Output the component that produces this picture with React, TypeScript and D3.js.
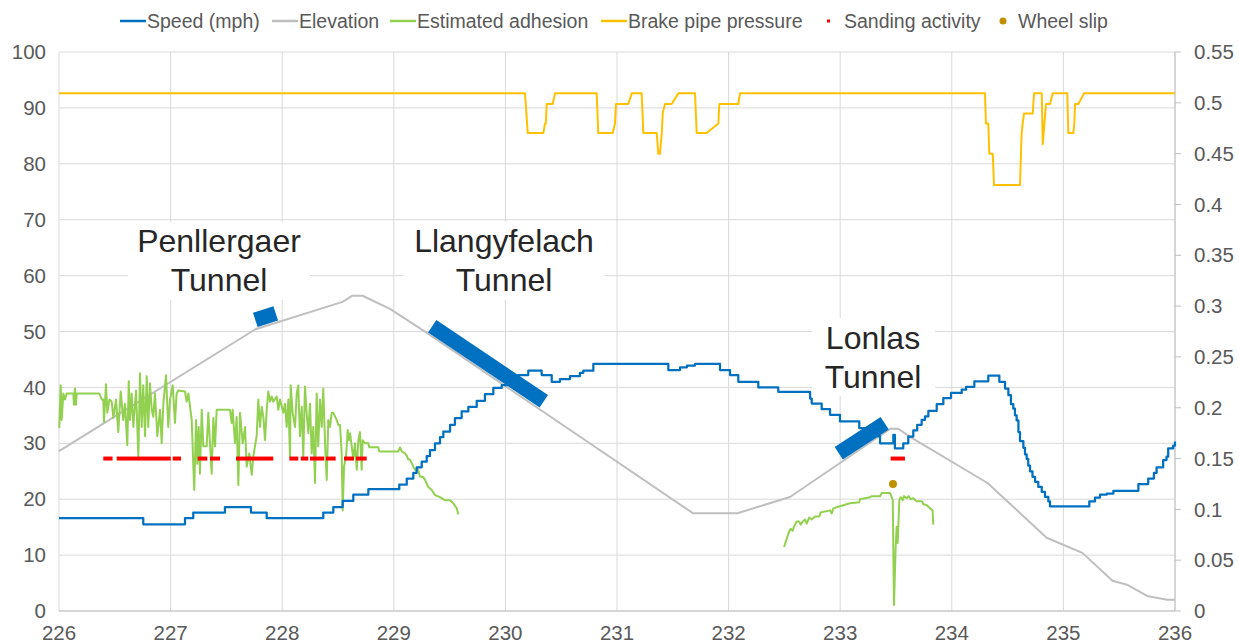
import React from "react";
import * as d3 from "d3";

// ---------- DATA ----------
const xTicks = [226, 227, 228, 229, 230, 231, 232, 233, 234, 235, 236];
const leftTicks = [0, 10, 20, 30, 40, 50, 60, 70, 80, 90, 100];
const rightTicks = [0, 0.05, 0.1, 0.15, 0.2, 0.25, 0.3, 0.35, 0.4, 0.45, 0.5, 0.55];

const seriesNames = ["Speed (mph)", "Elevation", "Estimated adhesion", "Brake pipe pressure", "Sanding activity", "Wheel slip"];

// speed (mph), step-after points [km, mph]
const speed: [number, number][] = [
  [226.0, 16.6], [226.755, 15.5], [227.129, 16.6], [227.203, 17.6], [227.487, 18.6], [227.72, 17.6], [227.861, 16.6],
  [228.368, 17.6], [228.458, 18.6], [228.542, 19.7], [228.637, 20.8], [228.772, 21.8], [229.049, 22.6], [229.116, 23.7],
  [229.175, 24.7], [229.205, 25.7], [229.25, 26.7], [229.295, 27.7], [229.324, 28.8], [229.369, 30.0], [229.414, 31.1],
  [229.444, 32.1], [229.504, 33.3], [229.548, 34.5], [229.608, 35.7], [229.668, 36.5], [229.743, 37.6], [229.817, 38.8],
  [229.892, 39.9], [229.967, 40.4], [230.04, 41.2], [230.113, 42.2], [230.205, 43.0], [230.325, 42.2], [230.415, 41.0],
  [230.489, 41.5], [230.579, 42.0], [230.668, 42.6], [230.698, 43.0], [230.788, 44.2], [231.46, 43.1], [231.565, 43.6],
  [231.627, 43.9], [231.699, 44.2], [231.923, 43.1], [232.013, 42.2], [232.087, 41.0], [232.266, 40.0], [232.445, 39.2],
  [232.73, 38.0], [232.745, 37.1], [232.834, 36.1], [232.909, 35.1], [232.998, 33.9], [233.171, 32.7], [233.267, 31.3],
  [233.357, 30.0], [233.476, 31.5], [233.49, 29.1], [233.565, 30.0], [233.61, 31.2], [233.655, 32.3], [233.69, 33.3],
  [233.73, 34.2], [233.76, 34.8], [233.79, 35.8], [233.865, 37.0], [233.924, 38.1], [233.993, 39.0], [234.089, 39.6],
  [234.128, 40.1], [234.202, 41.1], [234.327, 42.1], [234.426, 41.0], [234.477, 39.8], [234.507, 38.6], [234.53, 37.0],
  [234.551, 36.2], [234.566, 35.0], [234.581, 34.1], [234.597, 32.0], [234.611, 30.4], [234.641, 29.2], [234.656, 28.0],
  [234.671, 27.2], [234.685, 26.0], [234.701, 25.0], [234.723, 24.0], [234.746, 23.1], [234.775, 22.2], [234.806, 21.3],
  [234.835, 20.4], [234.865, 19.6], [234.88, 18.7], [235.232, 19.6], [235.283, 20.3], [235.328, 20.8], [235.388, 21.0],
  [235.448, 21.5], [235.672, 22.7], [235.76, 23.7], [235.811, 24.7], [235.835, 25.7], [235.894, 27.0], [235.924, 27.6],
  [235.939, 29.1], [235.984, 29.6], [236.0, 30.3],
];

// elevation (left-axis units) [km, value]
const elevation: [number, number][] = [
  [226.0, 28.6], [227.76, 50.4], [228.54, 55.3], [228.63, 56.4], [228.72, 56.4], [228.97, 54.0], [229.3, 49.7],
  [231.68, 17.5], [232.08, 17.5], [232.55, 20.4], [233.45, 32.6], [233.52, 32.6], [233.63, 31.1], [234.32, 22.9],
  [234.85, 13.1], [235.17, 10.4], [235.44, 5.4], [235.57, 4.7], [235.75, 2.7], [235.93, 2.0], [236.0, 2.0],
];

// brake pipe pressure (left-axis units) [km, value]
const brakePipe: [number, number][] = [
  [226.0, 92.6], [230.176, 92.6], [230.2, 85.5], [230.34, 85.5], [230.355, 87.2], [230.362, 87.2], [230.37, 90.7],
  [230.424, 90.7], [230.444, 92.6], [230.818, 92.6], [230.832, 85.5], [230.961, 85.5], [230.982, 87.2], [230.991, 90.7],
  [231.101, 90.7], [231.132, 92.6], [231.221, 92.6], [231.236, 85.5], [231.356, 85.5], [231.37, 81.8], [231.385, 81.8],
  [231.401, 85.5], [231.41, 89.1], [231.43, 90.7], [231.49, 90.7], [231.549, 92.6], [231.699, 92.6], [231.714, 85.5],
  [231.803, 85.5], [231.908, 87.2], [231.917, 90.7], [232.087, 90.7], [232.102, 92.6], [234.297, 92.6], [234.306, 87.2],
  [234.327, 87.2], [234.336, 81.8], [234.367, 81.8], [234.378, 76.2], [234.611, 76.2], [234.626, 85.5], [234.635, 87.2],
  [234.647, 89.0], [234.725, 89.0], [234.737, 92.6], [234.806, 92.6], [234.815, 83.5], [234.844, 90.7], [234.88, 90.7],
  [234.904, 92.6], [235.035, 92.6], [235.044, 85.5], [235.089, 85.5], [235.098, 87.2], [235.104, 90.7], [235.134, 90.7],
  [235.185, 92.6], [236.0, 92.6],
];

// estimated adhesion (right axis), first stretch
const adhesionA: [number, number][] = [
  [226.003, 0.18], [226.015, 0.222], [226.024, 0.188], [226.039, 0.214], [226.054, 0.208], [226.069, 0.214], [226.128, 0.214],
  [226.134, 0.203], [226.143, 0.219], [226.152, 0.203], [226.159, 0.214], [226.361, 0.214], [226.383, 0.208], [226.397, 0.208],
  [226.403, 0.186], [226.421, 0.223], [226.433, 0.195], [226.451, 0.208], [226.472, 0.206], [226.487, 0.19], [226.511, 0.208],
  [226.531, 0.176], [226.553, 0.216], [226.576, 0.188], [226.591, 0.204], [226.612, 0.163], [226.625, 0.226], [226.636, 0.188],
  [226.651, 0.214], [226.666, 0.181], [226.69, 0.217], [226.711, 0.152], [226.726, 0.234], [226.741, 0.181], [226.755, 0.222],
  [226.771, 0.172], [226.786, 0.231], [226.8, 0.181], [226.815, 0.224], [226.831, 0.198], [226.845, 0.191], [226.86, 0.214],
  [226.881, 0.172], [226.905, 0.198], [226.92, 0.165], [226.935, 0.204], [226.959, 0.232], [226.979, 0.181], [226.995, 0.208],
  [227.019, 0.222], [227.039, 0.185], [227.054, 0.214], [227.069, 0.217], [227.129, 0.216], [227.144, 0.206], [227.159, 0.214],
  [227.189, 0.188], [227.203, 0.145], [227.212, 0.119], [227.228, 0.188], [227.239, 0.145], [227.252, 0.181], [227.263, 0.135],
  [227.279, 0.198], [227.293, 0.162], [227.323, 0.162], [227.338, 0.195], [227.353, 0.165], [227.368, 0.135], [227.383, 0.19],
  [227.398, 0.162], [227.413, 0.198], [227.427, 0.198], [227.532, 0.198], [227.547, 0.185], [227.556, 0.198], [227.577, 0.165],
  [227.592, 0.191], [227.607, 0.124], [227.622, 0.195], [227.646, 0.165], [227.667, 0.181], [227.682, 0.142], [227.705, 0.155],
  [227.727, 0.134], [227.741, 0.152], [227.771, 0.172], [227.786, 0.208], [227.801, 0.181], [227.816, 0.201], [227.831, 0.191],
  [227.846, 0.168], [227.861, 0.198], [227.875, 0.216], [227.891, 0.206], [227.906, 0.211], [227.92, 0.206], [227.951, 0.211],
  [227.965, 0.198], [227.98, 0.208], [228.01, 0.195], [228.025, 0.204], [228.04, 0.181], [228.055, 0.208], [228.07, 0.152],
  [228.076, 0.222], [228.094, 0.195], [228.115, 0.181], [228.13, 0.214], [228.144, 0.222], [228.159, 0.172], [228.175, 0.201],
  [228.189, 0.152], [228.204, 0.221], [228.219, 0.195], [228.234, 0.175], [228.249, 0.204], [228.264, 0.155], [228.279, 0.181],
  [228.294, 0.126], [228.309, 0.214], [228.323, 0.162], [228.339, 0.208], [228.354, 0.181], [228.368, 0.219], [228.384, 0.165],
  [228.399, 0.129], [228.413, 0.188], [228.428, 0.181], [228.444, 0.195], [228.458, 0.195], [228.488, 0.188], [228.503, 0.183],
  [228.518, 0.183], [228.533, 0.155], [228.542, 0.099], [228.554, 0.142], [228.572, 0.152], [228.587, 0.178], [228.599, 0.168],
  [228.608, 0.175], [228.623, 0.162], [228.637, 0.149], [228.652, 0.165], [228.668, 0.139], [228.682, 0.168], [228.697, 0.176],
  [228.712, 0.139], [228.721, 0.168], [228.742, 0.165], [228.772, 0.165], [228.78, 0.161], [228.861, 0.161], [228.87, 0.157],
  [229.04, 0.157], [229.056, 0.161], [229.071, 0.157], [229.1, 0.155], [229.115, 0.153], [229.13, 0.149], [229.145, 0.149],
  [229.175, 0.142], [229.19, 0.139], [229.217, 0.139], [229.235, 0.132], [229.262, 0.132], [229.28, 0.129], [229.309, 0.122],
  [229.34, 0.119], [229.369, 0.114], [229.414, 0.112], [229.459, 0.109], [229.504, 0.109], [229.533, 0.106], [229.564, 0.101],
  [229.578, 0.095],
];

// estimated adhesion (right axis), second stretch
const adhesionB: [number, number][] = [
  [232.497, 0.063], [232.535, 0.076], [232.556, 0.081], [232.574, 0.079], [232.586, 0.083], [232.61, 0.088], [232.633, 0.088],
  [232.646, 0.085], [232.664, 0.088], [232.685, 0.09], [232.7, 0.086], [232.723, 0.092], [232.745, 0.09], [232.774, 0.093],
  [232.813, 0.093], [232.825, 0.097], [232.864, 0.098], [232.909, 0.099], [232.924, 0.096], [232.938, 0.101], [232.998, 0.103],
  [233.058, 0.105], [233.088, 0.106], [233.171, 0.107], [233.177, 0.11], [233.267, 0.112], [233.282, 0.113], [233.357, 0.113],
  [233.372, 0.116], [233.446, 0.116], [233.455, 0.114], [233.471, 0.109], [233.482, 0.006], [233.497, 0.063], [233.506, 0.083],
  [233.515, 0.067], [233.53, 0.109], [233.542, 0.112], [233.56, 0.109], [233.572, 0.113], [233.596, 0.111], [233.614, 0.113],
  [233.632, 0.11], [233.655, 0.111], [233.673, 0.109], [233.686, 0.108], [233.733, 0.108], [233.745, 0.105], [233.776, 0.104],
  [233.805, 0.101], [233.828, 0.099], [233.834, 0.085],
];

// sanding activity runs [kmStart, kmEnd] at level (right axis)
const sandingLevel = 0.15;
const sandingRuns: [number, number][] = [
  [226.397, 226.48], [226.517, 227.001], [227.019, 227.093], [227.243, 227.329], [227.353, 227.443], [227.586, 227.92],
  [228.064, 228.144], [228.166, 228.234], [228.249, 228.377], [228.392, 228.479], [228.554, 228.643], [228.661, 228.757],
  [233.452, 233.58],
];

// wheel slip events [km, value right axis]
const wheelSlip: [number, number][] = [[233.473, 0.125]];

// tunnels
const tunnelNames = ["Penllergaer", "Llangyfelach", "Lonlas"];
// marker centre line [kmStart, valStart, kmEnd, valEnd] (left-axis units)
const tunnelMarks: [number, number, number, number][] = [
  [227.759, 52.06, 227.942, 53.26],
  [229.344, 50.93, 230.344, 37.53],
  [232.987, 28.21, 233.399, 33.58],
];

// ---------- LAYOUT / STYLE ----------
const W = 1239, H = 643;
const FONT = "'Liberation Sans', Arial, Helvetica, sans-serif";
const C = { speed: "#0070C0", elev: "#BFBFBF", adh: "#92D050", brake: "#FFC000", sand: "#FF0000", slip: "#BF9000", grid: "#D9D9D9", text: "#595959" };
// label boxes: [x, y, w, h, centreX, baseline1, baseline2]
const labelBoxes = [
  [128, 222, 182, 78, 219, 252, 291],
  [403, 222, 202, 78, 504, 252, 291],
  [812, 318, 123, 78, 873, 349, 388],
];

export default function App() {
  const x = d3.scaleLinear().domain([226, 236]).range([59, 1175]);
  const yL = d3.scaleLinear().domain([0, 100]).range([611, 52]);
  const yR = d3.scaleLinear().domain([0, 0.55]).range([611, 52]);

  const lineL = d3.line<[number, number]>().x((d) => x(d[0])).y((d) => yL(d[1]));
  const lineR = d3.line<[number, number]>().x((d) => x(d[0])).y((d) => yR(d[1]));
  const stepL = d3.line<[number, number]>().x((d) => x(d[0])).y((d) => yL(d[1])).curve(d3.curveStepAfter);

  const fmtR = (v: number) => String(+v.toFixed(2));

  const legendItems = [
    { kind: "line", color: C.speed, sx: 120, tx: 147 },
    { kind: "line", color: C.elev, sx: 272, tx: 299 },
    { kind: "line", color: C.adh, sx: 390, tx: 417 },
    { kind: "line", color: C.brake, sx: 601, tx: 628 },
    { kind: "dash", color: C.sand, sx: 829, tx: 844 },
    { kind: "dot", color: C.slip, sx: 1003, tx: 1018 },
  ];

  return (
    <svg width={W} height={H} style={{ position: "absolute", left: 0, top: 0, background: "#fff" }} fontFamily={FONT}>
      <rect x={0} y={0} width={W} height={H} fill="#fff" />
      {leftTicks.map((t) => (
        <line key={"h" + t} x1={59} x2={1175} y1={yL(t)} y2={yL(t)} stroke={C.grid} strokeWidth={1} />
      ))}
      {xTicks.map((t) => (
        <line key={"v" + t} x1={x(t)} x2={x(t)} y1={52} y2={611} stroke={C.grid} strokeWidth={1} />
      ))}
      <line x1={59} x2={1175} y1={611} y2={611} stroke="#BFBFBF" strokeWidth={1} />
      <line x1={1175} x2={1175} y1={52} y2={611} stroke="#BFBFBF" strokeWidth={1} />
      {rightTicks.map((t) => (
        <line key={"rt" + t} x1={1175} x2={1181} y1={yR(t)} y2={yR(t)} stroke="#BFBFBF" strokeWidth={1} />
      ))}

      {labelBoxes.map((b, i) => (
        <rect key={"lb" + i} x={b[0]} y={b[1]} width={b[2]} height={b[3]} fill="#fff" />
      ))}

      <path d={lineL(elevation) || ""} fill="none" stroke={C.elev} strokeWidth={2} strokeLinejoin="round" />
      <path d={lineL(brakePipe) || ""} fill="none" stroke={C.brake} strokeWidth={2} strokeLinejoin="round" />
      <path d={lineR(adhesionA) || ""} fill="none" stroke={C.adh} strokeWidth={2} strokeLinejoin="round" />
      <path d={lineR(adhesionB) || ""} fill="none" stroke={C.adh} strokeWidth={2} strokeLinejoin="round" />
      <path d={stepL(speed) || ""} fill="none" stroke={C.speed} strokeWidth={2.25} strokeLinejoin="round" />

      {tunnelMarks.map((m, i) => (
        <line key={"tm" + i} x1={x(m[0])} y1={yL(m[1])} x2={x(m[2])} y2={yL(m[3])} stroke={C.speed} strokeWidth={15} strokeLinecap="butt" />
      ))}

      {sandingRuns.map((r, i) => (
        <rect key={"sd" + i} x={x(r[0])} y={yR(sandingLevel) - 2} width={x(r[1]) - x(r[0])} height={4} fill={C.sand} />
      ))}
      {wheelSlip.map((p, i) => (
        <circle key={"ws" + i} cx={x(p[0])} cy={yR(p[1])} r={4} fill={C.slip} />
      ))}

      {labelBoxes.map((b, i) => (
        <g key={"tl" + i} fontSize={32} fill="#262626" textAnchor="middle">
          <text x={b[4]} y={b[5]}>{tunnelNames[i]}</text>
          <text x={b[4]} y={b[6]}>Tunnel</text>
        </g>
      ))}

      {leftTicks.map((t) => (
        <text key={"lt" + t} x={46} y={yL(t)} dy="0.35em" textAnchor="end" fontSize={20.5} fill={C.text}>{t}</text>
      ))}
      {rightTicks.map((t) => (
        <text key={"rl" + t} x={1194} y={yR(t)} dy="0.35em" textAnchor="start" fontSize={20.5} fill={C.text}>{fmtR(t)}</text>
      ))}
      {xTicks.map((t) => (
        <text key={"xl" + t} x={x(t)} y={640} textAnchor="middle" fontSize={20.5} fill={C.text}>{t}</text>
      ))}

      {legendItems.map((it, i) => (
        <g key={"lg" + i}>
          {it.kind === "line" && <line x1={it.sx} x2={it.sx + 26} y1={21} y2={21} stroke={it.color} strokeWidth={2.5} />}
          {it.kind === "dash" && <rect x={it.sx - 2} y={19.5} width={3} height={3} fill={it.color} />}
          {it.kind === "dot" && <circle cx={it.sx} cy={21} r={3.5} fill={it.color} />}
          <text x={it.tx} y={21} dy="0.35em" fontSize={19.5} fill={C.text}>{seriesNames[i]}</text>
        </g>
      ))}
    </svg>
  );
}
